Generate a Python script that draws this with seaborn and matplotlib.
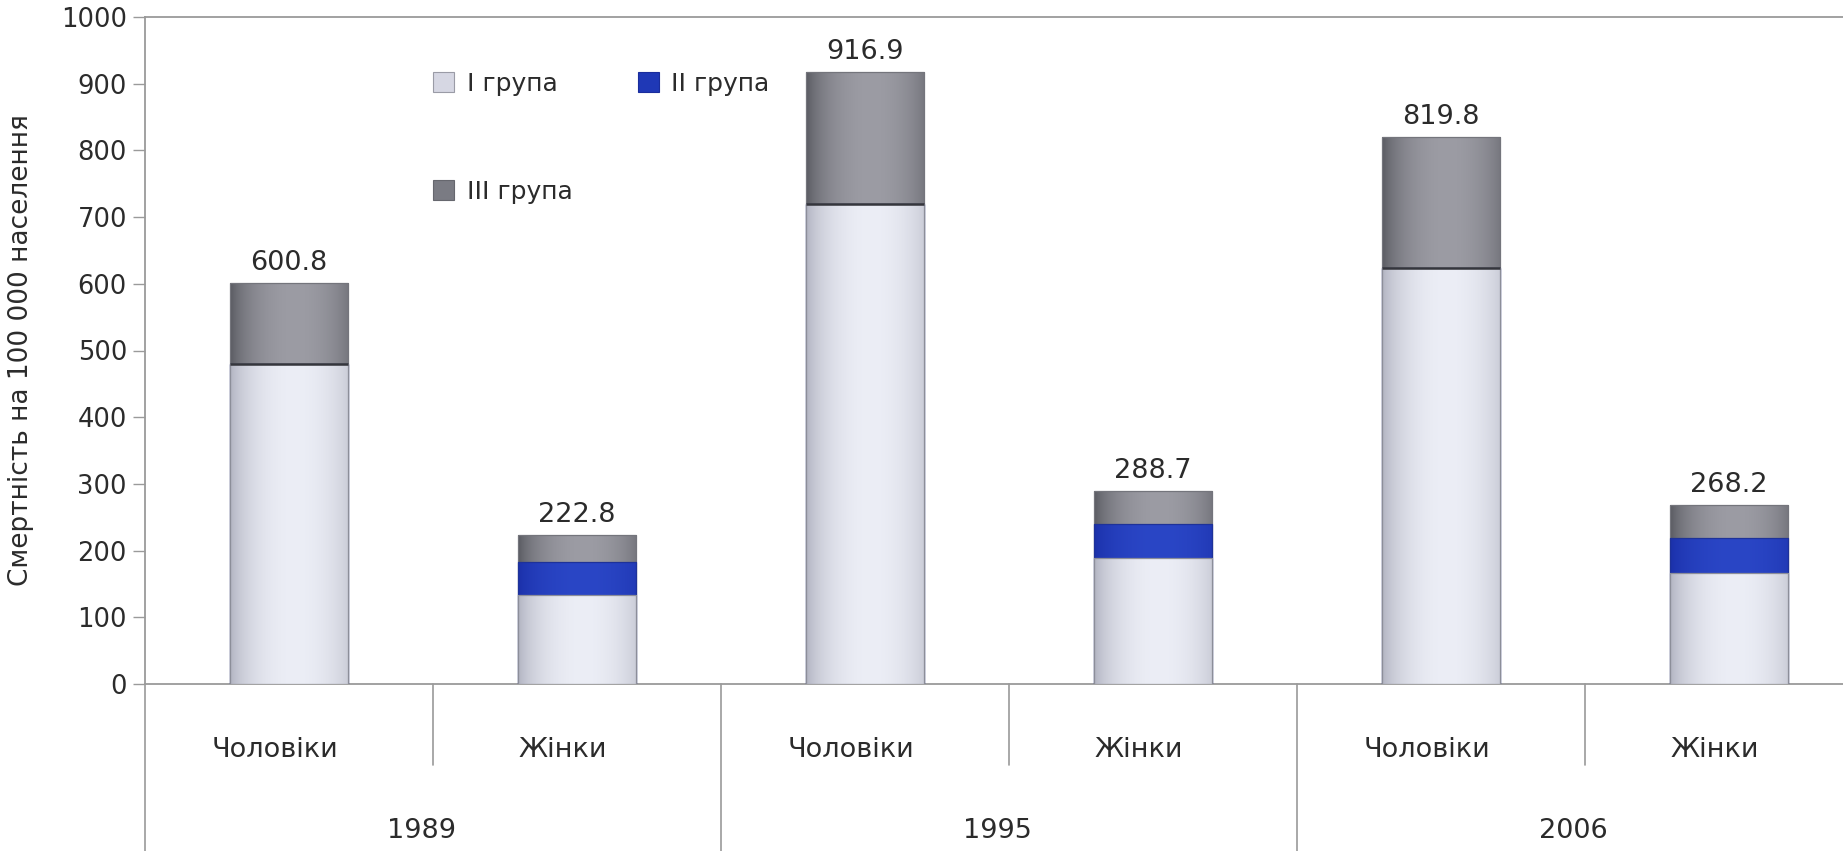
import numpy as np
import pandas as pd
import matplotlib
matplotlib.use("Agg")
import matplotlib.pyplot as plt
from matplotlib.patches import Patch
from matplotlib.colors import to_rgb
import seaborn as sns

# Mortality per 100 000 population by disability group, sex and year
years = ["1989", "1995", "2006"]
sexes = ["Чоловіки", "Жінки"]
group_i = [480.0, 133.0, 720.0, 189.0, 623.0, 166.0]
group_ii = [0.0, 50.0, 0.0, 51.0, 0.0, 53.0]
totals = [600.8, 222.8, 916.9, 288.7, 819.8, 268.2]
y_ticks = [0, 100, 200, 300, 400, 500, 600, 700, 800, 900, 1000]
legend_labels = ["I група", "II група", "III група"]
y_title = "Смертність на 100 000 населення"

keys = [f"{y} {s}" for y in years for s in sexes]
df = pd.DataFrame({
    "key": keys,
    "i": group_i,
    "i_ii": np.add(group_i, group_ii),
    "total": totals,
})

sns.set_theme(style="white")
plt.rcParams["font.family"] = ["DejaVu Sans"]

TEXT = "#2b2b2b"
AXIS = "#9a9a9a"

# (edge colour, highlight colour) for the cylinder-like shading of each group
shades = {
    "III": ("#56575e", "#9c9ca4"),
    "II": ("#1a2fa8", "#2a46c6"),
    "I": ("#aeb0be", "#eceef6"),
}
flat = {"I": "#d6d7e3", "II": "#1f38b6", "III": "#7a7b83"}

fig = plt.figure(figsize=(18.43, 8.51), dpi=100)
ax = fig.add_axes([145 / 1843, (851 - 684) / 851, 1728 / 1843, 667 / 851])


def gradient_strip(edge, mid, n=256):
    t = np.linspace(0, 1, n)
    prof = np.clip(1 - ((t - 0.55) / 0.55) ** 2, 0, 1) ** 0.7
    e = np.array(to_rgb(edge))
    m = np.array(to_rgb(mid))
    return (e[None, :] + (m - e)[None, :] * prof[:, None])[None, :, :]


layers = [("total", "III", "#74757c"), ("i_ii", "II", "#1e3299"), ("i", "I", "#8c8e99")]
layer_patches = []
for k, (col, grp, ec) in enumerate(layers):
    start = len(ax.patches)
    sns.barplot(data=df, x="key", y=col, order=keys, color=flat[grp],
                saturation=1, width=0.41, errorbar=None, ax=ax)
    img = gradient_strip(*shades[grp])
    new = list(ax.patches[start:])
    layer_patches.append(new)
    for p in new:
        x0, y0 = p.get_x(), p.get_y()
        x1, y1 = x0 + p.get_width(), y0 + p.get_height()
        if y1 - y0 <= 0:
            continue
        im = ax.imshow(img, extent=[x0, x1, y0, y1], aspect="auto",
                       interpolation="bicubic", zorder=2 * k + 2)
        im.set_clip_path(p)
        p.set_facecolor("none")
        p.set_edgecolor(ec)
        p.set_linewidth(0.9)
        p.set_zorder(2 * k + 3)

# dark seam where group I meets group III
for p, g2 in zip(layer_patches[2], group_ii):
    if g2 == 0:
        top = p.get_y() + p.get_height()
        ax.plot([p.get_x(), p.get_x() + p.get_width()], [top, top],
                color="#35363c", lw=1.8, zorder=8, solid_capstyle="butt")

ax.bar_label(ax.containers[0], labels=[f"{v:.1f}" for v in totals],
             padding=5, fontsize=19.5, color=TEXT)

ax.set_xlim(-0.5, 5.5)
ax.set_ylim(0, 1000)
ax.set_yticks(y_ticks)
ax.tick_params(axis="y", direction="out", length=9, width=1, color=AXIS,
               labelsize=18.5, labelcolor=TEXT, pad=4, left=True)
ax.set_xticks(range(len(keys)))
ax.set_xticklabels([])
ax.tick_params(axis="x", length=0)
ax.set_xlabel("")
ax.set_ylabel(y_title, fontsize=19, color=TEXT)
ax.yaxis.set_label_coords(-124 / 1728, 0.5)
ax.yaxis.label.set_va("center")
ax.grid(False)

for side in ("left", "bottom", "top"):
    ax.spines[side].set_visible(True)
    ax.spines[side].set_color(AXIS)
    ax.spines[side].set_linewidth(1.3)
ax.spines["right"].set_visible(False)

# two-level category axis below the plot
xt = ax.get_xaxis_transform()
for i, key in enumerate(keys):
    ax.text(i - 0.05, -0.099, sexes[i % 2], transform=xt, ha="center",
            va="center", fontsize=19.5, color=TEXT, clip_on=False)
for j, yr in enumerate(years):
    ax.text(2 * j + 0.5 - 0.04, -0.221, yr, transform=xt, ha="center",
            va="center", fontsize=19.5, color=TEXT, clip_on=False)
for xs in (0.5, 2.5, 4.5):
    ax.plot([xs, xs], [0, -0.121], transform=xt, color=AXIS, lw=1.2,
            clip_on=False)
for xs in (-0.5, 1.5, 3.5, 5.5):
    ax.plot([xs, xs], [0, -0.3], transform=xt, color=AXIS, lw=1.2,
            clip_on=False)

handles = [
    Patch(facecolor=flat["I"], edgecolor="#9a9ba6", lw=0.8),
    Patch(facecolor=flat["III"], edgecolor="#66676e", lw=0.8),
    Patch(facecolor=flat["II"], edgecolor="#1a2d9c", lw=0.8),
]
ax.legend(handles, [legend_labels[0], legend_labels[2], legend_labels[1]],
          ncol=2, loc="upper left", bbox_to_anchor=(433 / 1843, 1 - 72 / 851),
          bbox_transform=fig.transFigure, frameon=False, fontsize=18,
          handlelength=0.85, handleheight=0.85, handletextpad=0.5,
          labelspacing=3.35, columnspacing=2.6, borderpad=0, borderaxespad=0,
          labelcolor=TEXT)

fig.savefig("out.png", dpi=100, facecolor="white")
